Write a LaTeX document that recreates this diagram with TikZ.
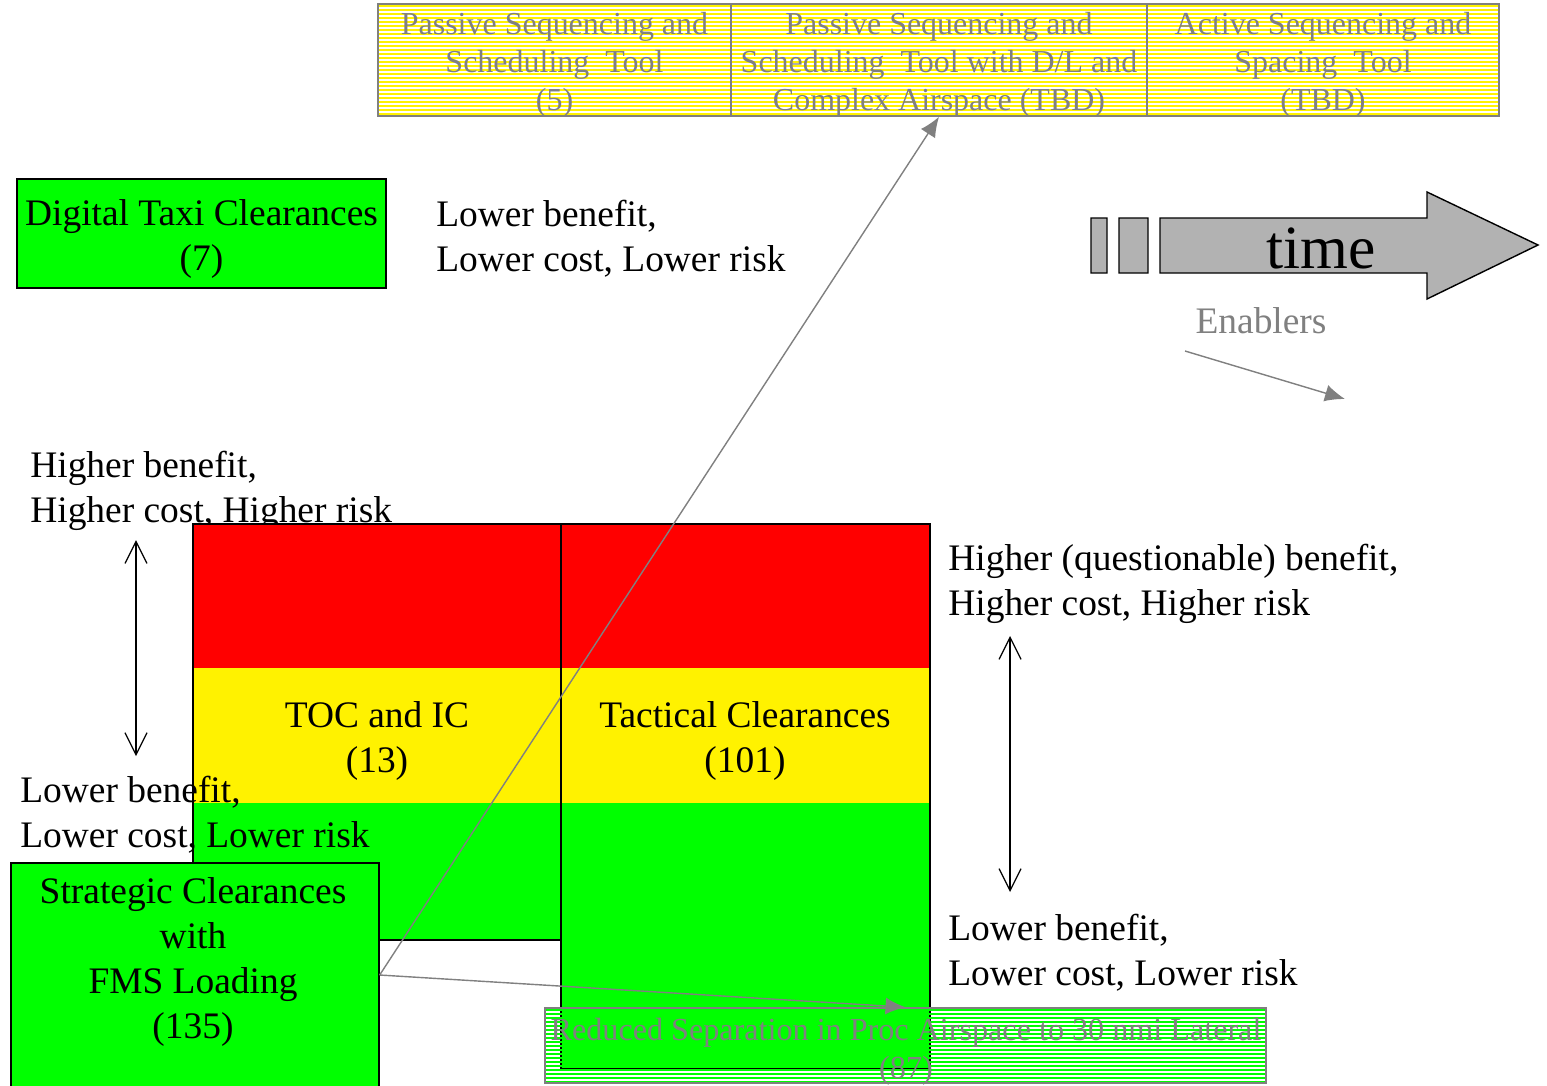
\documentclass[tikz,border=0pt]{standalone}
\usepackage{fontspec}
\setmainfont{Liberation Serif}
\usepackage{xcolor}
\usepackage{tikz}
\usetikzlibrary {arrows.meta}

\begin{document}
\begin{tikzpicture}[x=0.02cm, y=-0.02cm,
        big/.style={font=\fontsize{21.3}{25.5}\selectfont, yshift=-2.3pt},
        small/.style={font=\fontsize{18.2}{21.6}\selectfont, text=gray, yshift=-2.5pt},
        hatch/.style={draw=gray, line width=0.9pt, inner sep=0},
        ptr/.style={draw=gray, line width=0.8pt, -{Latex[length=4mm, width=3.4mm]}},
        updown/.style={line width=0.7pt, {Straight Barb[length=4.4mm, width=4.4mm]}-{Straight Barb[length=4.4mm, width=4.4mm]}}]
        \useasboundingbox (0,0) rectangle (1547,1085);

        % Tools along the top.
        \foreach \y in {6,10,...,114}
            \draw[yellow, line width=1.4pt] (378,\y) -- (1499,\y);
        \draw (554.5,60) node[hatch, minimum width=7.06cm, minimum height=2.24cm] (tool1) {}
            (939,60) node[hatch, minimum width=8.32cm, minimum height=2.24cm] (tool2) {}
            (1323,60) node[hatch, minimum width=7.04cm, minimum height=2.24cm] (tool3) {};
        \draw (554.5,60) node[small, align=center] (tool1lbl) {Passive Sequencing and\\Scheduling\ \ Tool\\(5)}
            (939,60) node[small, align=center] (tool2lbl) {Passive Sequencing and\\Scheduling\ \ Tool with D/L and\\Complex Airspace (TBD)}
            (1323,60) node[small, align=center] (tool3lbl) {Active Sequencing and\\Spacing\ \ Tool\\(TBD)};

        % Taxi clearances.
        \draw (201.5,233.5) node[draw, line width=0.8pt, fill=green, minimum width=7.38cm, minimum height=2.18cm] (taxi) {}
            (201.5,233.5) node[big, yshift=-0.8pt, align=center] (taxilbl) {Digital Taxi Clearances\\(7)}
            (436,235) node[anchor=west, inner sep=0, big, align=left] (taxinote) {Lower benefit,\\Lower cost, Lower risk};

        % Time arrow.
        \draw[line width=0.8pt, fill=black!30] (1091,218) rectangle (1107,273)
            (1119,218) rectangle (1148,273)
            (1160,218) -- (1427,218) -- (1427,192) -- (1538,245) -- (1427,299) -- (1427,273) -- (1160,273) -- cycle;
        \draw (1321,248) node[font=\fontsize{35}{42}\selectfont] (time) {time}
            (1261,321) node[font=\fontsize{21.3}{25.5}\selectfont, text=gray] (enab) {Enablers};
        \coordinate (e1) at (1185,351);
        \coordinate (e2) at (1345,399);
        \draw[ptr] (e1) -- (e2);

        \draw (30,487) node[anchor=west, inner sep=0, big, align=left] (hi) {Higher benefit,\\Higher cost, Higher risk};

        % Clearance grid.
        \fill[red] (193,524) rectangle (930,668);
        \fill[yellow] (193,668) rectangle (930,803);
        \fill[green] (193,803) rectangle (561,940) (561,803) rectangle (930,1069);
        \draw[line width=0.8pt] (193,524) rectangle (561,940) (561,524) rectangle (930,1069);
        \draw (377,737) node[big, align=center] (toc) {TOC and IC\\(13)}
            (745,737) node[big, align=center] (tac) {Tactical Clearances\\(101)};

        % Benefit scales.
        \coordinate (l1) at (136,540);
        \coordinate (l2) at (136,756);
        \coordinate (r1) at (1010,636);
        \coordinate (r2) at (1010,892);
        \draw[updown] (l1) -- (l2);
        \draw[updown] (r1) -- (r2);
        \draw (20,811) node[anchor=west, inner sep=0, big, align=left] (lo) {Lower benefit,\\Lower cost, Lower risk}
            (948,580) node[anchor=west, inner sep=0, big, align=left] (rhi) {Higher (questionable) benefit,\\Higher cost, Higher risk}
            (948,949) node[anchor=west, inner sep=0, big, align=left] (rlo) {Lower benefit,\\Lower cost, Lower risk};

        % Strategic clearances.
        \draw (195,975) node[draw, line width=0.8pt, fill=green, minimum width=7.36cm, minimum height=4.48cm] (strat) {}
            (193,958) node[big, align=center] (stratlbl) {Strategic Clearances\\with\\FMS Loading\\(135)};

        % Reduced separation.
        \foreach \y in {1010,1014,...,1082}
            \draw[green, line width=1.4pt] (545,\y) -- (1266,\y);
        \draw (905.5,1045.5) node[hatch, minimum width=14.42cm, minimum height=1.5cm] (redsep) {}
            (906,1047) node[small, font=\fontsize{18.3}{21.6}\selectfont, align=center] (redseplbl) {Reduced Separation in Proc Airspace to 30 nmi Lateral\\(87)};

        \draw[ptr] (strat.east) -- (tool2.south);
        \draw[ptr] (strat.east) -- (redsep.north);
    \end{tikzpicture}
\end{document}
